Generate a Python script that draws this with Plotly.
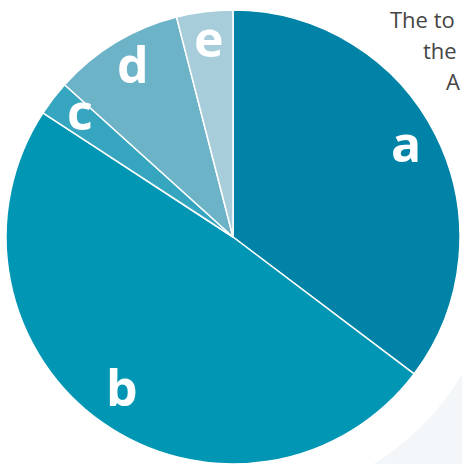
import math
import plotly.graph_objects as go

# ---- data ----
labels = ["a", "b", "c", "d", "e"]
values = [35.3, 48.9, 2.5, 9.3, 4.0]
colors = ["#0083a6", "#0096b4", "#35a5c0", "#6db3c8", "#a7cddb"]
side_text = ["The to", "the", "A"]

W, H = 462, 464
CX, CY = 233, 227          # pie centre in px (y measured from bottom)
R = 227                    # pie radius in px

fig = go.Figure()
fig.add_trace(go.Pie(
    labels=labels,
    values=values,
    sort=False,
    direction="clockwise",
    rotation=0,
    marker=dict(colors=colors, line=dict(color="white", width=1.5)),
    textinfo="none",
    hoverinfo="label+percent",
    showlegend=False,
    domain=dict(x=[(CX - R) / W, (CX + R) / W], y=[(CY - R) / H, (CY + R) / H]),
))

# slice labels at mid-angle of each slice, computed from the data
total = sum(values)
cum = 0.0
annotations = []
for lab, v in zip(labels, values):
    mid = (cum + v / 2) / total * 2 * math.pi
    cum += v
    rr = 0.85 * R
    x = (CX + rr * math.sin(mid)) / W
    y = (CY + rr * math.cos(mid)) / H
    annotations.append(dict(
        x=x, y=y, xref="paper", yref="paper", text=lab, showarrow=False,
        xanchor="center", yanchor="middle", yshift=8,
        font=dict(family="Open Sans", size=50, color="white", weight="bold"),
    ))

# partially visible paragraph at top right
for txt, xpx, ypx in zip(side_text, [388, 421, 444], [19, 50, 81]):
    annotations.append(dict(
        x=xpx / W, y=1 - ypx / H, xref="paper", yref="paper", text=txt,
        showarrow=False, xanchor="left", yanchor="middle",
        font=dict(family="Open Sans", size=22, color="#454545"),
    ))

# faint backdrop in the bottom-right corner (outside a ring around the pie)
RB = 267
cyt = H - CY
ang0 = math.asin((W - CX) / RB)
ang1 = math.acos((H - cyt) / RB)
pts_arc = []
n = 40
for i in range(n + 1):
    a = ang1 + (ang0 - ang1) * i / n
    px = CX + RB * math.sin(a)
    py = cyt + RB * math.cos(a)
    pts_arc.append((px, py))
path = f"M 1,{1 - pts_arc[-1][1] / H} L 1,0 L {pts_arc[0][0] / W},0"
for px, py in pts_arc:
    path += f" L {px / W},{1 - py / H}"
path += " Z"

fig.update_layout(
    width=W, height=H,
    margin=dict(l=0, r=0, t=0, b=0),
    paper_bgcolor="white",
    plot_bgcolor="white",
    annotations=annotations,
    shapes=[dict(type="path", path=path, xref="paper", yref="paper",
                 fillcolor="#f3f7f9", line=dict(width=0), layer="below")],
)

fig.write_html(
    "out.html",
    config={"displayModeBar": False},
    post_script="document.body.style.margin='0';document.body.style.overflow='hidden';",
)
